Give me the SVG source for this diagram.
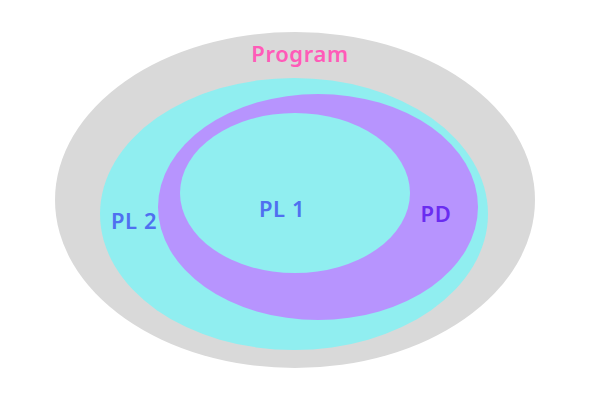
<svg xmlns="http://www.w3.org/2000/svg" width="600" height="400" viewBox="0 0 600 400">
<style>
text{font-family:"Noto Sans","Open Sans",sans-serif;font-size:22px;font-weight:600;text-anchor:middle;letter-spacing:0.6px}
.gray{fill:#d9d9d9}.cyan{fill:#90eef0}.purple{fill:#b794fe}
</style>
<rect width="600" height="400" fill="#ffffff"/>
<g id="program"><ellipse class="gray" cx="295" cy="200" rx="240" ry="168"/><text x="300" y="62" fill="#ff5bb8">Program</text></g>
<g id="pl2"><ellipse class="cyan" cx="294" cy="214" rx="194" ry="136"/><text x="134" y="229" fill="#4f70f0">PL 2</text></g>
<g id="pd"><ellipse class="purple" cx="318" cy="207" rx="160" ry="113"/><text x="436" y="222" fill="#6a2cf0">PD</text></g>
<g id="pl1"><ellipse class="cyan" cx="295" cy="193" rx="115" ry="80"/><text x="282" y="217" fill="#4f70f0">PL 1</text></g>
<g id="connectors"/>
</svg>
